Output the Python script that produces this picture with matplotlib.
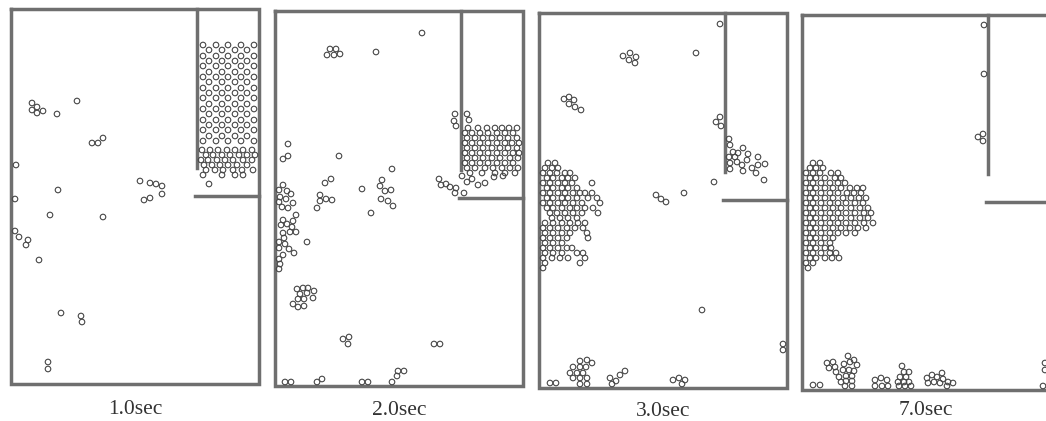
import matplotlib.pyplot as plt

# container geometry in box units (x from the left wall, depth from the top)
box_w, box_h = 248, 375
wall_x, wall_end = 186, 159
shelf_d, shelf_x0 = 187, 184

times = ['1.0sec', '2.0sec', '3.0sec', '7.0sec']

# ---- 1.0 sec ----
p1_rows = [
    (36, [192, 205, 217, 230, 243]),
    (41, [198, 211, 224, 236]),
    (47, [192, 205, 217, 230, 243]),
    (52, [198, 211, 224, 236]),
    (57, [192, 205, 217, 230, 243]),
    (63, [198, 211, 224, 236]),
    (68, [192, 205, 217, 230, 243]),
    (73, [198, 211, 224, 236]),
    (79, [192, 205, 217, 230, 243]),
    (84, [198, 211, 224, 236]),
    (89, [192, 205, 217, 230, 243]),
    (95, [198, 211, 224, 236]),
    (100, [192, 205, 217, 230, 243]),
    (105, [198, 211, 224, 236]),
    (111, [192, 205, 217, 230, 243]),
    (116, [198, 211, 224, 236]),
    (121, [192, 205, 217, 230, 243]),
    (127, [198, 211, 224, 236]),
    (132, [192, 205, 217, 230, 243]),
    (141, [191, 199, 207, 216, 224, 232, 241]),
    (146, [195, 202, 211, 219, 228, 236, 244]),
    (151, [190, 197, 206, 214, 222, 232, 241]),
    (156, [193, 201, 209, 217, 226, 236]),
    (161, [195, 204, 212, 222, 231, 242]),
    (166, [192, 211, 224, 232]),
]
p1_free = [(21, 94), (26, 98), (32, 102), (21, 101), (26, 104), (46, 105), (66, 92),
           (81, 134), (87, 134), (92, 129), (5, 156), (47, 181), (4, 190),
           (129, 172), (139, 174), (145, 175), (151, 177), (133, 191), (139, 189),
           (151, 185), (198, 175), (39, 206), (92, 208), (4, 222), (8, 228),
           (17, 231), (15, 236), (28, 251), (50, 304), (70, 307), (71, 313),
           (37, 353), (37, 360)]

# ---- 2.0 sec ----
p2_rows = [
    (117, [193, 203, 212, 220, 227, 234, 242]),
    (122, [190, 197, 205, 213, 222, 230, 238]),
    (127, [192, 200, 208, 217, 225, 233, 242]),
    (132, [190, 197, 205, 213, 222, 230, 237, 244]),
    (137, [192, 200, 208, 217, 225, 233, 242]),
    (142, [190, 197, 205, 213, 222, 230, 238, 244]),
    (147, [192, 200, 208, 217, 225, 235, 243]),
    (152, [190, 197, 205, 213, 222, 230, 238]),
    (157, [192, 200, 210, 218, 227, 235, 243]),
    (162, [195, 207, 220, 230, 240]),
]
p2_free = [(147, 22), (52, 44), (55, 38), (61, 38), (59, 44), (65, 43), (101, 41),
           (13, 133), (8, 148), (13, 145), (64, 145), (117, 158), (50, 172), (56, 168),
           (87, 178), (107, 169), (105, 175), (110, 180), (116, 179), (106, 188),
           (113, 190), (118, 195), (45, 184), (51, 188), (57, 189), (45, 190), (42, 197),
           (4, 179), (8, 174), (12, 180), (16, 183), (5, 186), (11, 188), (4, 191),
           (18, 192), (7, 196), (13, 197),
           (164, 168), (166, 174), (171, 173), (175, 176), (181, 177), (180, 182), (189, 182),
           (187, 165), (192, 171), (197, 168), (203, 174), (210, 172), (219, 166), (228, 165),
           (180, 103), (179, 110), (181, 115), (192, 103), (194, 109), (96, 202),
           (8, 209), (6, 214), (12, 213), (18, 210), (21, 204), (17, 216), (15, 221),
           (21, 221), (8, 222), (4, 231), (9, 227), (10, 233), (4, 237), (14, 238),
           (19, 242), (8, 244), (4, 248), (5, 253), (4, 258), (32, 231),
           (22, 278), (28, 277), (33, 277), (39, 280), (25, 283), (32, 282), (38, 287),
           (23, 288), (29, 288), (18, 293), (23, 296), (29, 295),
           (68, 328), (74, 326), (73, 333), (159, 333), (165, 333),
           (10, 371), (16, 371), (42, 371), (47, 368), (87, 371), (93, 371),
           (117, 371), (122, 365), (123, 360), (129, 360)]

# ---- 3.0 sec ----
p3_rows = [
    (150, [9, 16]),
    (155, [6, 13, 19]),
    (160, [4, 11, 18, 26, 31]),
    (165, [8, 14, 23, 29, 36]),
    (170, [4, 11, 19, 26, 33, 53]),
    (175, [8, 14, 23, 29, 38]),
    (180, [4, 11, 19, 26, 34, 41, 46, 53]),
    (185, [8, 14, 23, 29, 38, 49, 58]),
    (190, [4, 11, 19, 26, 34, 43, 61]),
    (195, [8, 14, 23, 31, 38, 46, 54]),
    (200, [11, 18, 26, 34, 43, 59]),
    (205, [13, 21, 29, 38]),
    (210, [6, 14, 23, 31, 39, 46]),
    (215, [4, 11, 19, 28, 36, 44]),
    (220, [6, 14, 23, 31, 48]),
    (225, [4, 11, 19, 28, 49]),
    (230, [6, 14, 23]),
    (235, [4, 11, 19, 28, 33]),
    (240, [6, 14, 23, 38, 44]),
    (245, [4, 13, 21, 29, 46]),
    (250, [6, 41]),
    (255, [4]),
]
p3_free = [(181, 11), (84, 43), (91, 40), (97, 44), (90, 47), (96, 50), (157, 40),
           (25, 86), (30, 84), (35, 87), (30, 91), (36, 94), (42, 97),
           (177, 109), (181, 104), (182, 113),
           (190, 126), (191, 132), (194, 139), (190, 144), (196, 144), (199, 140),
           (204, 135), (209, 141), (191, 150), (198, 149), (203, 152), (208, 147),
           (219, 144), (213, 155), (219, 152), (226, 151), (217, 160), (204, 158),
           (191, 156), (225, 167),
           (175, 169), (145, 180), (117, 182), (122, 186), (127, 189),
           (163, 297), (244, 331), (244, 337),
           (41, 348), (48, 347), (53, 350), (34, 354), (41, 354), (47, 354), (31, 360),
           (38, 360), (44, 360), (34, 365), (41, 365), (48, 365), (41, 371), (48, 371),
           (11, 370), (17, 370), (71, 365), (73, 371), (77, 368), (81, 362), (86, 358),
           (134, 367), (140, 365), (146, 367), (143, 371)]

# ---- 7.0 sec ----
p4_rows = [
    (148, [11, 18]),
    (153, [8, 14, 21]),
    (158, [4, 11, 18, 29, 36]),
    (163, [8, 14, 23, 33, 39]),
    (168, [4, 11, 19, 28, 36, 43]),
    (173, [8, 14, 23, 31, 39, 48, 55, 61]),
    (178, [4, 11, 19, 28, 36, 45, 52, 59]),
    (183, [8, 14, 23, 31, 41, 49, 57, 64]),
    (188, [4, 11, 19, 28, 36, 44, 53, 61]),
    (193, [8, 14, 23, 31, 39, 49, 58, 66]),
    (198, [4, 11, 19, 28, 36, 44, 53, 62, 69]),
    (203, [8, 14, 23, 31, 39, 49, 58, 66]),
    (208, [4, 11, 19, 28, 36, 44, 53, 62, 71]),
    (213, [8, 14, 23, 31, 39, 48, 56, 64]),
    (218, [4, 11, 19, 28, 36, 44, 53]),
    (223, [8, 14, 23, 31]),
    (228, [4, 11, 19, 28]),
    (233, [8, 14, 23, 29]),
    (238, [4, 11, 19, 28, 34]),
    (243, [8, 14, 23, 30, 37]),
    (248, [4, 11]),
    (253, [6]),
]
p4_free = [(182, 10), (182, 59), (176, 122), (181, 119), (181, 126),
           (243, 348), (243, 355), (241, 371),
           (11, 370), (18, 370),
           (25, 348), (31, 347), (33, 352), (27, 353), (34, 357), (37, 362), (39, 367),
           (43, 371), (50, 371), (46, 341), (48, 347), (42, 349), (52, 345), (55, 350),
           (41, 355), (47, 355), (52, 356), (44, 361), (50, 361), (44, 366), (50, 366),
           (73, 365), (79, 363), (85, 365), (73, 371), (80, 371), (86, 371),
           (100, 351), (102, 357), (107, 357), (98, 362), (104, 362), (96, 367),
           (102, 367), (107, 367), (97, 371), (103, 371), (109, 371),
           (125, 363), (130, 360), (135, 362), (140, 358), (141, 364), (126, 368),
           (132, 367), (138, 368), (146, 367), (145, 371), (151, 368)]

panels = [(p1_rows, p1_free), (p2_rows, p2_free), (p3_rows, p3_free), (p4_rows, p4_free)]

# where each box sits on the page (pixels of a 1046x421 image)
fig_w, fig_h = 1046, 421
box_left = [11, 275, 539, 802]
box_top = [9, 11, 13, 15]
label_base = [414, 415, 416, 415]

wall_color = '#6f6f6f'
wall_lw = 2.5
ball_color = '#474747'

fig = plt.figure(figsize=(fig_w / 100, fig_h / 100), dpi=100)
fig.patch.set_facecolor('white')

for i, (rows, free) in enumerate(panels):
    ax = fig.add_axes([box_left[i] / fig_w, 1 - (box_top[i] + box_h) / fig_h,
                       box_w / fig_w, box_h / fig_h])
    ax.set_xlim(0, box_w)
    ax.set_ylim(box_h, 0)
    ax.axis('off')

    # outer box, inner wall, shelf
    ax.plot([0, box_w, box_w, 0, 0], [0, 0, box_h, box_h, 0],
            color=wall_color, lw=wall_lw, solid_joinstyle='miter', clip_on=False)
    ax.plot([wall_x, wall_x], [0, wall_end], color=wall_color, lw=wall_lw, clip_on=False)
    ax.plot([shelf_x0, box_w], [shelf_d, shelf_d], color=wall_color, lw=wall_lw, clip_on=False)

    xs = [x for d, row in rows for x in row] + [p[0] for p in free]
    ds = [d for d, row in rows for x in row] + [p[1] for p in free]
    ax.scatter(xs, ds, s=16, facecolors='none', edgecolors=ball_color,
               linewidths=0.8, clip_on=False, zorder=3)

    ax.text(box_w / 2, label_base[i] - box_top[i], times[i], ha='center', va='baseline',
            fontsize=15.5, family='Liberation Serif', color='#333333', clip_on=False)

plt.savefig('out.png', dpi=100)
